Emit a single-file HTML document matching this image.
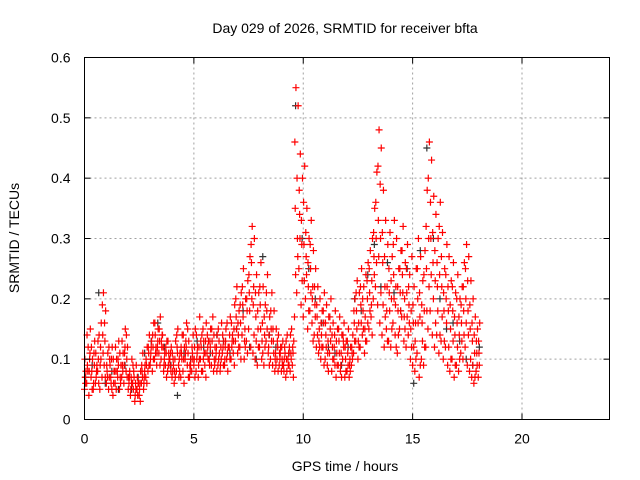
<!DOCTYPE html>
<html><head><meta charset="utf-8"><style>
body{margin:0;background:#fff;}
svg{display:block;font-family:"Liberation Sans",sans-serif;}
</style></head><body>
<svg id="chart" width="640" height="480">
<text x="345" y="33" text-anchor="middle" font-size="14">Day 029 of 2026, SRMTID for receiver bfta</text>
<text x="345" y="471" text-anchor="middle" font-size="14">GPS time / hours</text>
<text transform="translate(19,238) rotate(-90)" text-anchor="middle" font-size="14">SRMTID / TECUs</text>
<g id="grid"></g><g id="marks"></g><g id="axes"></g>
</svg>
<script>
const xTicks=[0,5,10,15,20];
const yTicks=[0,0.1,0.2,0.3,0.4,0.5,0.6];
const yTickLabels=["0","0.1","0.2","0.3","0.4","0.5","0.6"];
const stepHours=0.1;
const redUpper=[.08,.12,.15,.10,.13,.09,.14,.16,.21,.18,.11,.09,.12,.08,.10,.13,.09,.11,.15,.12,.08,.10,.07,.09,.06,.08,.11,.09,.12,.14,.13,.16,.12,.15,.17,.14,.11,.13,.10,.12,.09,.13,.15,.11,.14,.12,.16,.13,.10,.14,.15,.12,.17,.14,.11,.16,.13,.15,.17,.12,.14,.11,.16,.13,.15,.12,.17,.14,.19,.22,.18,.21,.25,.20,.23,.27,.32,.30,.24,.21,.26,.22,.19,.24,.17,.21,.18,.15,.14,.12,.13,.11,.14,.12,.15,.13,.55,.52,.44,.40,.42,.35,.30,.33,.28,.25,.22,.20,.18,.21,.19,.17,.20,.16,.18,.15,.17,.14,.16,.13,.15,.12,.14,.20,.23,.21,.25,.22,.24,.26,.28,.30,.35,.41,.48,.45,.38,.33,.29,.31,.27,.33,.30,.25,.28,.32,.26,.29,.24,.27,.22,.25,.30,.27,.23,.28,.38,.46,.43,.37,.34,.30,.36,.31,.25,.29,.27,.23,.26,.21,.24,.20,.22,.26,.29,.27,.23,.20,.17,.15,.16];
const redLower=[.05,.06,.04,.07,.05,.06,.08,.05,.07,.09,.06,.05,.07,.04,.06,.08,.05,.07,.06,.08,.05,.04,.06,.03,.05,.04,.06,.05,.07,.08,.09,.08,.10,.09,.11,.10,.12,.09,.08,.10,.07,.06,.08,.09,.07,.08,.10,.09,.07,.08,.09,.08,.07,.10,.08,.09,.11,.10,.09,.08,.10,.09,.08,.11,.09,.10,.12,.10,.11,.13,.11,.12,.14,.10,.13,.15,.12,.11,.10,.09,.12,.10,.09,.13,.11,.10,.09,.08,.10,.09,.08,.09,.07,.10,.08,.09,.17,.21,.25,.19,.17,.20,.15,.18,.16,.14,.12,.11,.10,.12,.10,.09,.11,.08,.10,.07,.09,.08,.10,.07,.08,.07,.09,.11,.13,.10,.12,.14,.11,.13,.15,.17,.20,.22,.19,.16,.14,.12,.15,.13,.12,.16,.14,.11,.15,.17,.13,.12,.14,.10,.09,.08,.11,.07,.10,.09,.12,.15,.18,.14,.12,.14,.11,.13,.10,.12,.09,.08,.10,.07,.09,.08,.11,.10,.12,.09,.08,.07,.06,.08,.07];
const redMid=[.07,.09,.10,.08,.11,.07,.10,.12,.14,.13,.08,.07,.10,.06,.08,.10,.07,.09,.11,.10,.06,.07,.05,.06,.04,.06,.08,.07,.09,.11,.11,.12,.14,.12,.13,.12,.09,.11,.09,.11,.08,.10,.12,.10,.11,.10,.13,.11,.08,.11,.12,.10,.12,.12,.10,.13,.12,.13,.13,.10,.12,.10,.12,.12,.12,.11,.14,.12,.15,.17,.14,.16,.19,.15,.18,.21,.26,.22,.17,.15,.19,.16,.14,.18,.14,.15,.13,.11,.12,.10,.10,.10,.10,.11,.11,.11,.35,.30,.34,.29,.29,.27,.22,.25,.22,.19,.17,.15,.14,.16,.14,.13,.15,.12,.14,.11,.13,.11,.13,.10,.11,.10,.11,.16,.18,.16,.19,.18,.17,.20,.21,.23,.27,.30,.33,.30,.26,.22,.22,.21,.20,.24,.22,.18,.21,.24,.20,.21,.19,.18,.16,.16,.20,.17,.16,.18,.25,.30,.30,.26,.23,.22,.24,.22,.18,.20,.18,.15,.18,.14,.16,.14,.16,.18,.20,.18,.15,.13,.11,.11,.11];
const redExtraA=[.10,.14,.08,.12,.06,.11,.13,.09,.19,.16,.09,.12,.06,.10,.12,.07,.11,.13,.09,.14,.07,.05,.09,.04,.07,.05,.09,.06,.10,.12,.10,.14,.16,.11,.15,.13,.08,.12,.13,.09,.11,.08,.14,.07,.12,.14,.11,.15,.09,.12,.10,.14,.09,.13,.15,.11,.14,.09,.15,.14,.11,.15,.09,.14,.10,.16,.12,.16,.13,.20,.16,.19,.22,.13,.20,.24,.29,.19,.21,.18,.22,.13,.17,.21,.12,.18,.15,.10,.13,.11,.12,.08,.13,.09,.14,.12,.46,.40,.38,.33,.36,.31,.26,.29,.20,.22,.19,.13,.16,.18,.16,.11,.17,.14,.12,.13,.15,.09,.14,.12,.13,.09,.12,.18,.21,.13,.22,.20,.15,.23,.25,.19,.31,.36,.42,.39,.31,.27,.18,.25,.23,.29,.19,.22,.25,.28,.17,.25,.22,.15,.19,.13,.25,.21,.19,.24,.32,.40,.36,.31,.28,.26,.32,.27,.21,.24,.22,.19,.22,.17,.20,.17,.19,.22,.25,.23,.19,.16,.14,.13,.13];
const redExtraB=[.06,.08,.11,.05,.09,.08,.06,.10,.11,.07,.07,.10,.05,.08,.05,.09,.06,.08,.12,.07,.07,.06,.08,.05,.06,.03,.07,.08,.06,.09,.12,.10,.11,.13,.09,.14,.10,.07,.11,.08,.10,.07,.11,.08,.10,.06,.12,.07,.09,.10,.07,.11,.10,.08,.13,.07,.10,.12,.11,.09,.08,.13,.10,.09,.13,.08,.10,.13,.09,.15,.12,.10,.17,.12,.11,.18,.20,.14,.13,.12,.15,.11,.12,.15,.09,.13,.11,.09,.08,.11,.09,.12,.08,.09,.10,.07,.24,.27,.30,.23,.23,.24,.18,.21,.13,.17,.14,.12,.12,.09,.12,.08,.13,.10,.09,.09,.11,.07,.12,.08,.09,.08,.10,.13,.15,.12,.16,.15,.13,.16,.18,.14,.24,.26,.27,.21,.19,.17,.13,.18,.15,.20,.12,.14,.18,.21,.15,.17,.16,.12,.12,.10,.16,.09,.13,.12,.18,.22,.24,.20,.16,.18,.14,.17,.13,.16,.12,.10,.13,.09,.12,.10,.13,.14,.16,.14,.10,.09,.07,.09,.09];
const blackStepHours=0.3;
const blackValues=[.07,.09,.21,.06,.08,.05,.09,.05,.07,.11,.13,.16,.12,.09,.04,.11,.10,.13,.12,.11,.14,.13,.11,.15,.18,.12,.10,.27,.14,.12,.09,.11,.52,.30,.25,.20,.16,.12,.11,.09,.12,.20,.18,.24,.29,.22,.26,.21,.18,.25,.06,.28,.45,.30,.20,.15,.16,.13,.10,.09,.12];

const L=84.5,R=609.5,T=57.5,B=419.5;
const xs=h=>L+h/24*(R-L);
const ys=v=>B-v/0.6*(B-T);
const NS="http://www.w3.org/2000/svg";
function mk(tag,attrs,parent){const e=document.createElementNS(NS,tag);for(const k in attrs)e.setAttribute(k,attrs[k]);parent.appendChild(e);return e;}
const grid=document.getElementById('grid'),axes=document.getElementById('axes'),marks=document.getElementById('marks');
xTicks.forEach(t=>{
  const x=xs(t);
  if(t>0){const g=mk('line',{x1:x,x2:x,y1:T,y2:B,stroke:'#a0a0a0','stroke-dasharray':'2,3','stroke-width':1},grid);
  
  }
  const tk=mk('line',{x1:x,x2:x,y1:B,y2:B-6,stroke:'#000'},axes);
  
  
  const tk2=mk('line',{x1:x,x2:x,y1:T,y2:T+6,stroke:'#000'},axes);
  
  
  const lb=mk('text',{x:x,y:B+24,'text-anchor':'middle','font-size':14},axes);lb.textContent=String(t);
  
  
});
yTicks.forEach((t,i)=>{
  const y=ys(t);
  if(t>0){const g=mk('line',{x1:L,x2:R,y1:y,y2:y,stroke:'#a0a0a0','stroke-dasharray':'2,3','stroke-width':1},grid);
  
  }
  const tk=mk('line',{x1:L,x2:L+6,y1:y,y2:y,stroke:'#000'},axes);
  
  
  const tk2=mk('line',{x1:R,x2:R-6,y1:y,y2:y,stroke:'#000'},axes);
  
  
  const lb=mk('text',{x:L-14,y:y+5,'text-anchor':'end','font-size':14},axes);lb.textContent=yTickLabels[i];
  
  
});
const frame=mk('rect',{x:L,y:T,width:R-L,height:B-T,fill:'none',stroke:'#000'},axes);


function plus(h,v,color,name){
  const x=xs(h),y=ys(v);
  const p=mk('path',{d:`M${x-3.5},${y}H${x+3.5}M${x},${y-3.5}V${y+3.5}`,stroke:color,'stroke-width':1.2,fill:'none'},marks);
  
  
}
blackValues.forEach((v,i)=>plus(i*blackStepHours+0.05,v,'#333','black-point'));
redLower.forEach((v,i)=>plus(i*stepHours,v,'#ff0000','red-point'));
redExtraA.forEach((v,i)=>plus(i*stepHours+0.016,v,'#ff0000','red-point'));
redMid.forEach((v,i)=>plus(i*stepHours+0.033,v,'#ff0000','red-point'));
redExtraB.forEach((v,i)=>plus(i*stepHours+0.05,v,'#ff0000','red-point'));
redUpper.forEach((v,i)=>plus(i*stepHours+0.066,v,'#ff0000','red-point'));
</script>
</body></html>
